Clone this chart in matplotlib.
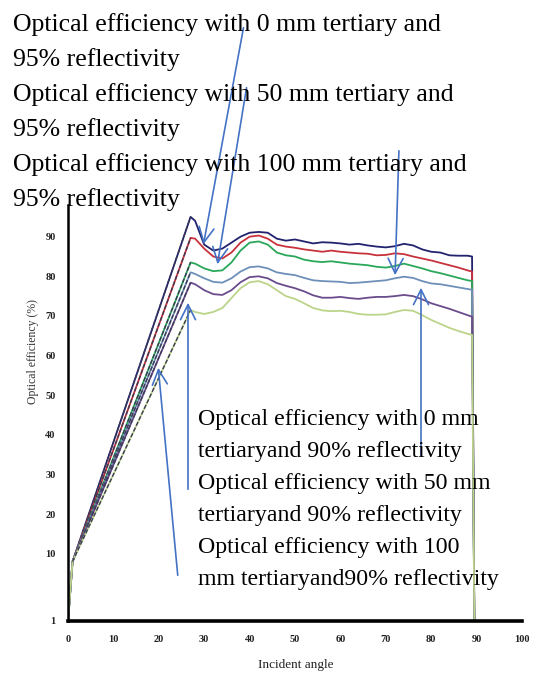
import matplotlib
matplotlib.use("Agg")
import matplotlib.pyplot as plt

# incident angle (deg)
angles = [0, 1, 27, 28, 30, 32, 34, 36, 38, 40, 42, 44, 46, 48, 50, 52, 54, 56, 58,
          60, 62, 64, 66, 68, 70, 72, 74, 76, 78, 80, 82, 84, 86, 88, 89, 89.5]

# optical efficiency (%), -7 = bottom of the axis
eff_navy = [-7, 8, 95, 94, 88, 86.5, 87, 88.5, 90, 91, 91.2, 91, 89.5, 89, 89.3, 88.8, 88.3, 88.6, 88.5,
            88.3, 88, 88.2, 87.8, 87.5, 87.3, 87.6, 88.2, 87.8, 86.8, 86.2, 86, 85.3, 85.2, 85.2, 85, -7]
eff_red = [-7, 8, 89.7, 89.5, 87, 85, 84.5, 86, 88.5, 90, 90.3, 89.5, 88, 87.5, 87.2, 86.8, 86.5, 86.2, 86.5,
           86.2, 86, 85.8, 85.7, 85.3, 85.4, 85.8, 85.6, 85, 84.5, 84, 83.4, 82.8, 82.2, 81.5, 81.2, -7]
eff_green = [-7, 8, 83.5, 83.2, 82, 81.3, 81.5, 83.5, 86.5, 88.5, 88.8, 88, 86, 85.3, 85, 84.2, 83.8, 83.6, 83.8,
             83.5, 83.2, 83, 82.8, 82.4, 82.2, 82.6, 83.2, 82.6, 82, 81.3, 80.8, 80.2, 79.6, 79, 78.8, -7]
eff_blue = [-7, 8, 81, 80.6, 79.5, 78.6, 78.4, 79.5, 81.2, 82.3, 82.5, 82, 81, 80.6, 80.3, 79.6, 79, 78.8, 78.7,
            78.6, 78.3, 78.4, 78.6, 78.8, 79, 79.5, 79.9, 79.6, 78.8, 78.2, 78, 77.6, 77.2, 76.8, 76.6, -7]
eff_purple = [-7, 8, 78.4, 78, 76.5, 75.5, 75.3, 76.5, 78.5, 79.8, 80, 79.5, 78.3, 77.6, 77, 76.2, 75.2, 74.6, 74.6,
              74.8, 74.5, 74.3, 74.6, 74.8, 74.8, 75, 75.3, 75, 74.2, 73.2, 72.5, 71.8, 71, 70.2, 69.8, -7]
eff_lime = [-7, 8, 71.5, 71, 70.5, 71, 72, 74.5, 77, 78.5, 78.8, 78, 76.5, 75, 74.3, 73.2, 72, 71.4, 71.2,
            71.3, 71, 70.5, 70.3, 70.3, 70.4, 71, 71.5, 71.3, 70.2, 69, 68, 67, 66.2, 65.5, 65.2, -7]

series = [eff_navy, eff_red, eff_green, eff_blue, eff_purple, eff_lime]
colors = ["#22226e", "#c8323c", "#2aa85a", "#6e90b8", "#6a4c8c", "#bcd48a"]

x_ticks = [0, 10, 20, 30, 40, 50, 60, 70, 80, 90, 100]
y_ticks = [-7, 10, 20, 30, 40, 50, 60, 70, 80, 90]
y_ticklabels = ["1", "10", "20", "30", "40", "50", "60", "70", "80", "90"]

top_text = ("Optical efficiency with 0 mm tertiary and\n95% reflectivity\n"
            "Optical efficiency with 50 mm tertiary and\n95% reflectivity\n"
            "Optical efficiency with 100 mm tertiary and\n95% reflectivity")
low_text = ("Optical efficiency with 0 mm\ntertiaryand 90% reflectivity\n"
            "Optical efficiency with 50 mm\ntertiaryand 90% reflectivity\n"
            "Optical efficiency with 100\nmm tertiaryand90% reflectivity")

W, H = 540, 681
fig = plt.figure(figsize=(W / 100, H / 100), dpi=100)
ax = fig.add_axes([68 / W, 1 - 621 / H, (522 - 68) / W, (621 - 205) / H])

for vals, c in zip(series, colors):
    ax.plot(angles, vals, color=c, lw=1.3)
    # rising part looks dashed dark in the picture
    ax.plot(angles[1:3], vals[1:3], color="#3a3a55", lw=1.0, ls=(0, (3, 1.5)))

ax.set_xlim(0, 100)
ax.set_ylim(-7, 98)
ax.set_xticks(x_ticks)
ax.set_yticks(y_ticks)
ax.set_yticklabels(y_ticklabels)
for lab in ax.get_xticklabels() + ax.get_yticklabels():
    lab.set_fontfamily("Liberation Serif")
    lab.set_fontweight("bold")
    lab.set_fontsize(7.5)
    lab.set_color("#222222")
ax.tick_params(length=0)
ax.tick_params(axis="x", pad=10)
ax.tick_params(axis="y", pad=9)
ax.spines["top"].set_visible(False)
ax.spines["right"].set_visible(False)
ax.spines["left"].set_linewidth(1.8)
ax.spines["bottom"].set_linewidth(2.6)

fig.text(33 / W, 1 - 352 / H, "Optical efficiency (%)", rotation=90,
         ha="center", va="center", family="Liberation Serif", fontsize=8.5, color="#333333")
fig.text(296 / W, 1 - 665 / H, "Incident angle", ha="center", va="center",
         family="Liberation Serif", fontsize=9.5, color="#222222")

fig.text(13 / W, 1 - 13 / H, top_text, ha="left", va="top", family="Liberation Serif",
         fontsize=18.5, linespacing=1.67)
fig.text(198 / W, 1 - 409 / H, low_text, ha="left", va="top", family="Liberation Serif",
         fontsize=17.2, linespacing=1.69)

# callout arrows (pixel positions in the picture: tail -> head)
arrows = [((244, 25), (203, 247)), ((247, 85), (217, 267)), ((399, 148), (395, 278)),
          ((421, 458), (421, 285)), ((188, 492), (188, 300)), ((178, 578), (158, 365))]
for (tx, ty), (hx, hy) in arrows:
    fig.add_artist(matplotlib.patches.FancyArrowPatch(
        (tx / W, 1 - ty / H), (hx / W, 1 - hy / H), transform=fig.transFigure,
        arrowstyle="->,head_length=0.9,head_width=0.45", mutation_scale=12,
        color="#4472c4", lw=1.2))

fig.savefig("out.png", dpi=100)
